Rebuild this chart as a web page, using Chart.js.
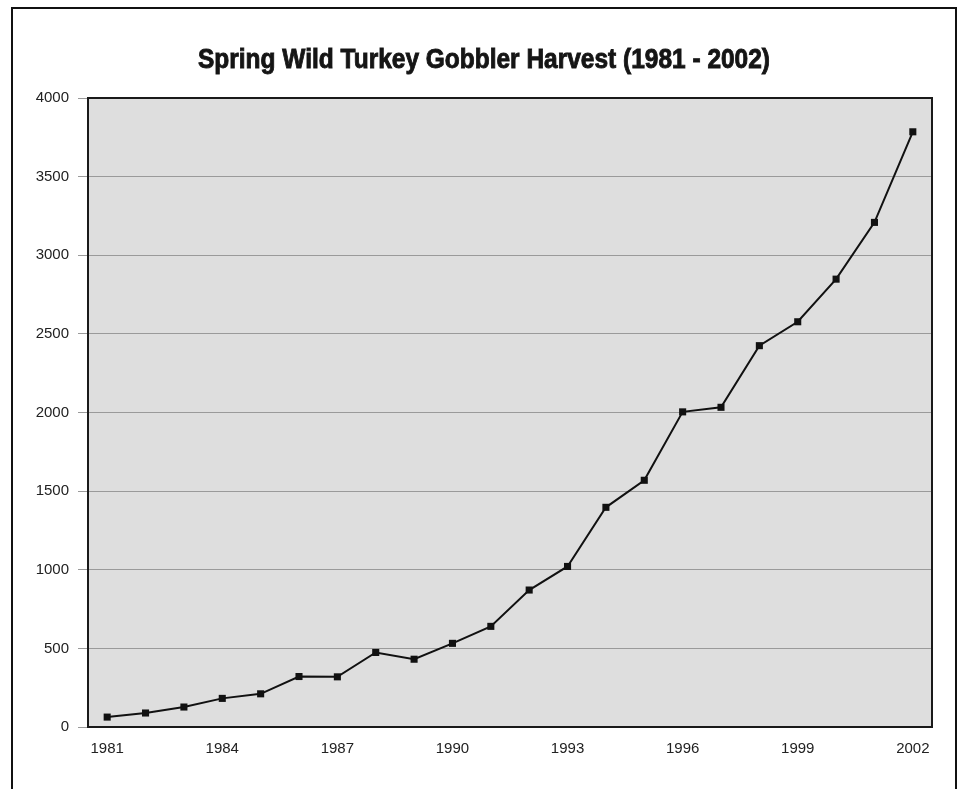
<!DOCTYPE html>
<html>
<head>
<meta charset="utf-8">
<script src="https://cdn.jsdelivr.net/npm/chart.js@4.4.1/dist/chart.umd.min.js"></script>
<style>
  html, body { margin:0; padding:0; background:#fff; }
  #wrap { position:relative; width:959px; height:789px; overflow:hidden; }
  #frame { position:absolute; left:11px; top:7px; width:942px; height:800px;
           border:2px solid #111; border-bottom:none; pointer-events:none; }
  canvas { position:absolute; left:0; top:0; }
</style>
</head>
<body>
<div id="wrap">
  <canvas id="harvestChart" width="959" height="789"></canvas>
  <div id="frame"></div>
</div>
<script>
// Spring gobbler harvest
const years = ['1981','1982','1983','1984','1985','1986','1987','1988','1989','1990','1991',
               '1992','1993','1994','1995','1996','1997','1998','1999','2000','2001','2002'];
const harvest = [63, 89, 127, 182, 211, 321, 319, 474, 431, 532, 640,
                 871, 1021, 1397, 1569, 2004, 2033, 2425, 2577, 2848, 3209, 3785];
const yTicks = [0, 500, 1000, 1500, 2000, 2500, 3000, 3500, 4000];
const shownYears = ['1981','1984','1987','1990','1993','1996','1999','2002'];
const titleText = 'Spring Wild Turkey Gobbler Harvest (1981 - 2002)';

// gray plot background, box around it, and the condensed bold title
const plotBox = {
  id: 'plotBox',
  beforeDraw(chart){
    const a = chart.chartArea, ctx = chart.ctx;
    ctx.save();
    ctx.fillStyle = '#dedede';
    ctx.fillRect(a.left, a.top, a.right - a.left, a.bottom - a.top);
    ctx.restore();
  },
  beforeDatasetsDraw(chart){
    const a = chart.chartArea, ctx = chart.ctx;
    ctx.save();
    ctx.strokeStyle = '#1a1a1a';
    ctx.lineWidth = 2;
    ctx.strokeRect(a.left, a.top, a.right - a.left, a.bottom - a.top);
    ctx.restore();
  },
  afterDraw(chart){
    const ctx = chart.ctx;
    ctx.save();
    ctx.font = "bold 27px 'Liberation Sans', Arial, sans-serif";
    const w = ctx.measureText(titleText).width;
    const sx = 572 / w;
    ctx.translate(484, 61);
    ctx.scale(sx, 1);
    ctx.fillStyle = '#151515';
    ctx.strokeStyle = '#151515';
    ctx.lineWidth = 0.9;
    ctx.textAlign = 'center';
    ctx.textBaseline = 'middle';
    ctx.fillText(titleText, 0, 0);
    ctx.strokeText(titleText, 0, 0);
    ctx.restore();
  }
};

const ctx = document.getElementById('harvestChart').getContext('2d');
new Chart(ctx, {
  type: 'line',
  data: {
    labels: years,
    datasets: [{
      data: harvest,
      borderColor: '#111',
      borderWidth: 2,
      backgroundColor: '#111',
      pointStyle: 'rect',
      pointRadius: 5,
      pointBorderWidth: 0,
      tension: 0,
      fill: false
    }]
  },
  options: {
    responsive: false,
    animation: false,
    layout: { padding: { left: 0, right: 27, top: 98, bottom: 0 } },
    plugins: {
      legend: { display: false },
      tooltip: { enabled: false },
      title: { display: false }
    },
    scales: {
      x: {
        offset: true,
        grid: { display: false },
        border: { display: false },
        afterFit: s => { s.height = 62; },
        ticks: {
          autoSkip: false,
          maxRotation: 0,
          padding: 5,
          color: '#222',
          font: { family: "'Liberation Sans', Arial, sans-serif", size: 15 },
          callback: function(v){
            const lab = this.getLabelForValue(v);
            return shownYears.includes(lab) ? lab : '';
          }
        }
      },
      y: {
        min: 0,
        max: 4000,
        afterFit: s => { s.width = 88; },
        afterBuildTicks: s => { s.ticks = yTicks.map(v => ({ value: v })); },
        grid: { color: '#9a9a9a', lineWidth: 1, tickLength: 10, tickColor: '#9a9a9a' },
        border: { display: false },
        ticks: {
          padding: 9,
          color: '#222',
          font: { family: "'Liberation Sans', Arial, sans-serif", size: 15 },
          callback: v => String(v)
        }
      }
    }
  },
  plugins: [plotBox]
});
</script>
</body>
</html>
